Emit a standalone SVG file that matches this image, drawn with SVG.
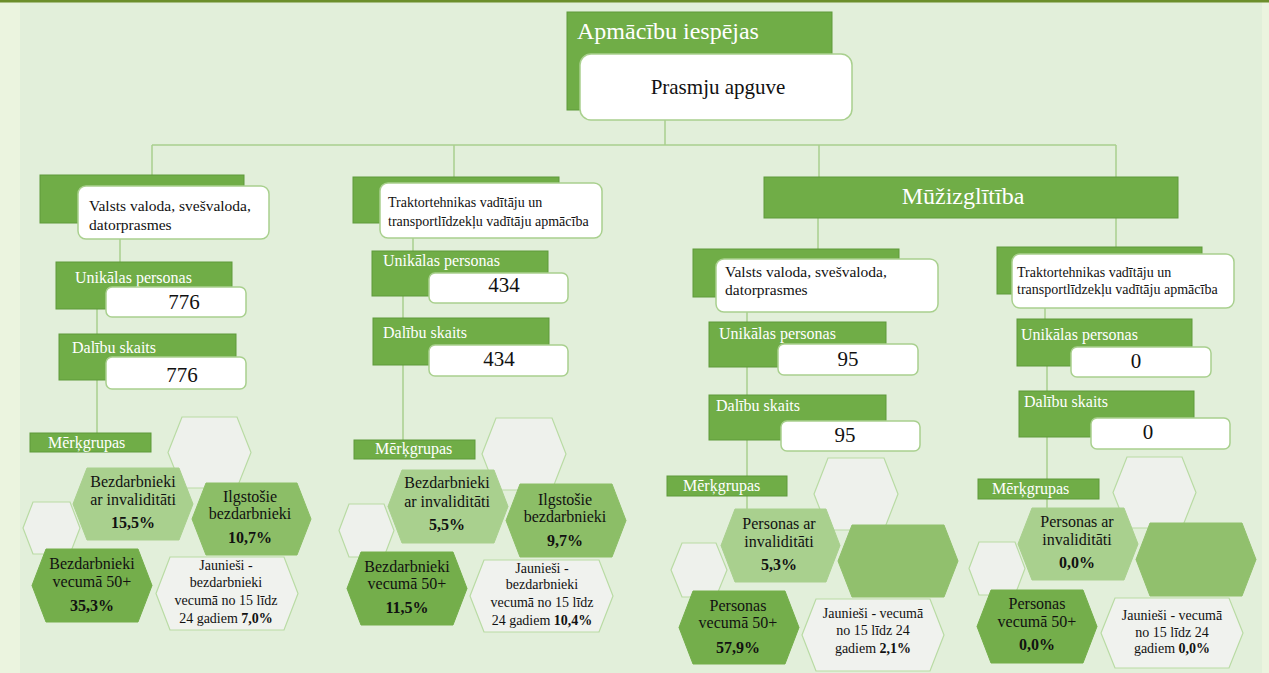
<svg xmlns="http://www.w3.org/2000/svg" width="1269" height="673" viewBox="0 0 1269 673" font-family="Liberation Serif, Times New Roman, serif">
<defs>
<style>
.g{fill:#70AD47;stroke:#5E9A3B;stroke-width:1;}
.w{fill:#FFFFFF;stroke:#A9D08E;stroke-width:1.5;}
.ln{fill:none;stroke:#A9D08E;stroke-width:1.5;}
.tw{fill:#FFFFFF;font-size:16px;}
.tb{fill:#111111;}
.num{fill:#111111;font-size:21px;text-anchor:middle;}
.he{fill:#EEF1EC;stroke:#B9DBA4;stroke-width:1.2;}
.hl{fill:#A9D08E;stroke:#A9D08E;stroke-width:1;}
.hm{fill:#8CBE67;stroke:#8CBE67;stroke-width:1;}
.hd{fill:#74AE4B;stroke:#74AE4B;stroke-width:1;}
.hg{fill:#91C06D;stroke:#91C06D;stroke-width:1;}
.hj{fill:#F0F2EE;stroke:#B9DBA4;stroke-width:1.2;}
.ht{fill:#111111;font-size:16px;text-anchor:middle;}
.hs{fill:#111111;font-size:14px;text-anchor:middle;}
.bd{font-weight:bold;}
</style>
</defs>
<rect x="0" y="0" width="1269" height="673" fill="#E2EFDA"/>
<rect x="0" y="0" width="20" height="673" fill="#EBF4DF"/>
<rect x="1262" y="0" width="7" height="673" fill="#EBF4DF"/>
<rect x="0" y="0" width="1269" height="2.5" fill="#6C8E2B"/>

<g id="connectors">
<path class="ln" d="M665 120V145M152 145H1116M152 145V175M454 145V177M819 145V177M1116 145V248M818 218V249"/>
<path class="ln" d="M120 239V262M97 309V334M97 380V433"/>
<path class="ln" d="M413 238V251M403 296V318M403 365V440"/>
<path class="ln" d="M747 312V322M747 367V395M747 440V510"/>
<path class="ln" d="M1045 308V319M1047 366V391M1047 437V508"/>
</g>

<g id="root">
<rect class="g" x="567" y="12" width="265" height="98"/>
<text x="577" y="39" fill="#FFFFFF" font-size="24">Apmācību iespējas</text>
<rect class="w" x="580" y="54" width="272" height="66" rx="11"/>
<text x="718" y="94" font-size="21" fill="#111111" text-anchor="middle">Prasmju apguve</text>
</g>

<g id="muzizglitiba">
<rect class="g" x="764" y="177" width="414" height="41"/>
<text x="963" y="204" fill="#FFFFFF" font-size="24" text-anchor="middle">Mūžizglītība</text>
</g>

<!-- Column 1 -->
<g id="c1-head">
<rect class="g" x="40" y="175" width="204" height="48"/>
<rect class="w" x="78" y="186" width="191" height="53" rx="8"/>
<text class="tb" x="89" y="211" font-size="15.5">Valsts valoda, svešvaloda,</text>
<text class="tb" x="89" y="230" font-size="15.5">datorprasmes</text>
</g>
<g id="c1-unik">
<rect class="g" x="56" y="262" width="176" height="47"/>
<text class="tw" x="75" y="283">Unikālas personas</text>
<rect class="w" x="106" y="287" width="140" height="30" rx="6"/>
<text class="num" x="184" y="309">776</text>
</g>
<g id="c1-dal">
<rect class="g" x="59" y="334" width="177" height="46"/>
<text class="tw" x="72" y="353">Dalību skaits</text>
<rect class="w" x="106" y="357" width="140" height="32" rx="6"/>
<text class="num" x="182" y="382">776</text>
</g>
<g id="c1-merk">
<rect class="g" x="30" y="433" width="121" height="19"/>
<text class="tw" x="48" y="448">Mērķgrupas</text>
</g>
<g id="c1-hex">
<polygon class="he" points="168,452.5 182,417 237,417 251,452.5 237,488 182,488"/>
<polygon class="he" points="23,528 33,502 70,502 80,528 70,554 33,554"/>
<polygon class="hl" points="73,504 87,468 179,468 193,504 179,540 87,540"/>
<text class="ht" x="133" y="487">Bezdarbnieki</text>
<text class="ht" x="133" y="505">ar invaliditāti</text>
<text class="ht bd" x="133" y="528">15,5%</text>
<polygon class="hm" points="192,519 206,483 297,483 311,519 297,555 206,555"/>
<text class="ht" x="250" y="502">Ilgstošie</text>
<text class="ht" x="250" y="519">bezdarbnieki</text>
<text class="ht bd" x="250" y="543">10,7%</text>
<polygon class="hd" points="32,585.5 46,549 138,549 152,585.5 138,622 46,622"/>
<text class="ht" x="92" y="569">Bezdarbnieki</text>
<text class="ht" x="92" y="587">vecumā 50+</text>
<text class="ht bd" x="92" y="611">35,3%</text>
<polygon class="hj" points="156,593.5 170,557 284,557 298,593.5 284,630 170,630"/>
<text class="hs" x="226" y="570">Jaunieši -</text>
<text class="hs" x="226" y="587">bezdarbnieki</text>
<text class="hs" x="226" y="605">vecumā no 15 līdz</text>
<text class="hs" x="226" y="623">24 gadiem <tspan class="bd">7,0%</tspan></text>
</g>

<!-- Column 2 -->
<g id="c2-head">
<rect class="g" x="353" y="177" width="206" height="46"/>
<rect class="w" x="380" y="183" width="222" height="55" rx="8"/>
<text class="tb" x="388" y="207" font-size="14">Traktortehnikas vadītāju un</text>
<text class="tb" x="388" y="226" font-size="14">transportlīdzekļu vadītāju apmācība</text>
</g>
<g id="c2-unik">
<rect class="g" x="372" y="251" width="176" height="45"/>
<text class="tw" x="383" y="266">Unikālas personas</text>
<rect class="w" x="429" y="273" width="139" height="30" rx="6"/>
<text class="num" x="504" y="292">434</text>
</g>
<g id="c2-dal">
<rect class="g" x="373" y="318" width="176" height="47"/>
<text class="tw" x="383" y="338">Dalību skaits</text>
<rect class="w" x="429" y="345" width="139" height="31" rx="6"/>
<text class="num" x="499" y="366">434</text>
</g>
<g id="c2-merk">
<rect class="g" x="354" y="440" width="121" height="19"/>
<text class="tw" x="375" y="454">Mērķgrupas</text>
</g>
<g id="c2-hex">
<polygon class="he" points="482,454 496,418 552,418 566,454 552,490 496,490"/>
<polygon class="he" points="339,530.5 349,504 384,504 394,530.5 384,557 349,557"/>
<polygon class="hl" points="388,506.5 402,470 494,470 508,506.5 494,543 402,543"/>
<text class="ht" x="447" y="488">Bezdarbnieki</text>
<text class="ht" x="447" y="507">ar invaliditāti</text>
<text class="ht bd" x="447" y="530">5,5%</text>
<polygon class="hm" points="506,520.5 520,484 612,484 626,520.5 612,557 520,557"/>
<text class="ht" x="565" y="505">Ilgstošie</text>
<text class="ht" x="565" y="522">bezdarbnieki</text>
<text class="ht bd" x="565" y="546">9,7%</text>
<polygon class="hd" points="347,588.5 361,552 453,552 467,588.5 453,625 361,625"/>
<text class="ht" x="407" y="572">Bezdarbnieki</text>
<text class="ht" x="407" y="589">vecumā 50+</text>
<text class="ht bd" x="407" y="613">11,5%</text>
<polygon class="hj" points="470,596 484,560 599,560 613,596 599,632 484,632"/>
<text class="hs" x="542" y="573">Jaunieši -</text>
<text class="hs" x="542" y="589">bezdarbnieki</text>
<text class="hs" x="542" y="607">vecumā no 15 līdz</text>
<text class="hs" x="542" y="625">24 gadiem <tspan class="bd">10,4%</tspan></text>
</g>

<!-- Column 3 -->
<g id="c3-head">
<rect class="g" x="693" y="249" width="206" height="48"/>
<rect class="w" x="716" y="259" width="222" height="53" rx="8"/>
<text class="tb" x="725" y="277" font-size="15.5">Valsts valoda, svešvaloda,</text>
<text class="tb" x="725" y="295" font-size="15.5">datorprasmes</text>
</g>
<g id="c3-unik">
<rect class="g" x="709" y="322" width="177" height="45"/>
<text class="tw" x="719" y="339">Unikālas personas</text>
<rect class="w" x="778" y="344" width="140" height="31" rx="6"/>
<text class="num" x="848" y="366">95</text>
</g>
<g id="c3-dal">
<rect class="g" x="709" y="395" width="177" height="45"/>
<text class="tw" x="716" y="411">Dalību skaits</text>
<rect class="w" x="781" y="421" width="139" height="30" rx="6"/>
<text class="num" x="845" y="442">95</text>
</g>
<g id="c3-merk">
<rect class="g" x="667" y="476" width="120" height="20"/>
<text class="tw" x="683" y="491">Mērķgrupas</text>
</g>
<g id="c3-hex">
<polygon class="he" points="814,494 828,458 884,458 898,494 884,530 828,530"/>
<polygon class="he" points="671,570 682,543 716,543 727,570 716,597 682,597"/>
<polygon class="hl" points="721,545.5 735,509 826,509 840,545.5 826,582 735,582"/>
<text class="ht" x="779" y="529">Personas ar</text>
<text class="ht" x="779" y="547">invaliditāti</text>
<text class="ht bd" x="779" y="570">5,3%</text>
<polygon class="hg" points="838,561 852,525 944,525 958,561 944,597 852,597"/>
<polygon class="hd" points="679,627.5 693,591 785,591 799,627.5 785,664 693,664"/>
<text class="ht" x="738" y="611">Personas</text>
<text class="ht" x="738" y="628">vecumā 50+</text>
<text class="ht bd" x="738" y="653">57,9%</text>
<polygon class="hj" points="802,635 816,599 930,599 944,635 930,671 816,671"/>
<text class="hs" x="873" y="618">Jaunieši - vecumā</text>
<text class="hs" x="873" y="635">no 15 līdz 24</text>
<text class="hs" x="873" y="653">gadiem <tspan class="bd">2,1%</tspan></text>
</g>

<!-- Column 4 -->
<g id="c4-head">
<rect class="g" x="997" y="247" width="205" height="47"/>
<rect class="w" x="1012" y="254" width="222" height="54" rx="8"/>
<text class="tb" x="1017" y="277" font-size="14">Traktortehnikas vadītāju un</text>
<text class="tb" x="1017" y="294" font-size="14">transportlīdzekļu vadītāju apmācība</text>
</g>
<g id="c4-unik">
<rect class="g" x="1017" y="319" width="175" height="47"/>
<text class="tw" x="1021" y="340">Unikālas personas</text>
<rect class="w" x="1071" y="347" width="140" height="30" rx="6"/>
<text class="num" x="1136" y="368">0</text>
</g>
<g id="c4-dal">
<rect class="g" x="1019" y="391" width="175" height="46"/>
<text class="tw" x="1024" y="407">Dalību skaits</text>
<rect class="w" x="1091" y="418" width="139" height="31" rx="6"/>
<text class="num" x="1148" y="439">0</text>
</g>
<g id="c4-merk">
<rect class="g" x="978" y="479" width="121" height="20"/>
<text class="tw" x="992" y="494">Mērķgrupas</text>
</g>
<g id="c4-hex">
<polygon class="he" points="1113,492.5 1127,457 1182,457 1196,492.5 1182,528 1127,528"/>
<polygon class="he" points="969,568.5 979,542 1015,542 1025,568.5 1015,595 979,595"/>
<polygon class="hl" points="1018,544 1032,508 1124,508 1138,544 1124,580 1032,580"/>
<text class="ht" x="1077" y="527">Personas ar</text>
<text class="ht" x="1077" y="545">invaliditāti</text>
<text class="ht bd" x="1077" y="568">0,0%</text>
<polygon class="hg" points="1136,559.5 1150,523 1242,523 1256,559.5 1242,596 1150,596"/>
<polygon class="hd" points="977,626.5 991,590 1083,590 1097,626.5 1083,663 991,663"/>
<text class="ht" x="1037" y="609">Personas</text>
<text class="ht" x="1037" y="627">vecumā 50+</text>
<text class="ht bd" x="1037" y="650">0,0%</text>
<polygon class="hj" points="1101,633 1115,598 1229,598 1243,633 1229,668 1115,668"/>
<text class="hs" x="1172" y="620">Jaunieši - vecumā</text>
<text class="hs" x="1172" y="637">no 15 līdz 24</text>
<text class="hs" x="1172" y="653">gadiem <tspan class="bd">0,0%</tspan></text>
</g>
</svg>
